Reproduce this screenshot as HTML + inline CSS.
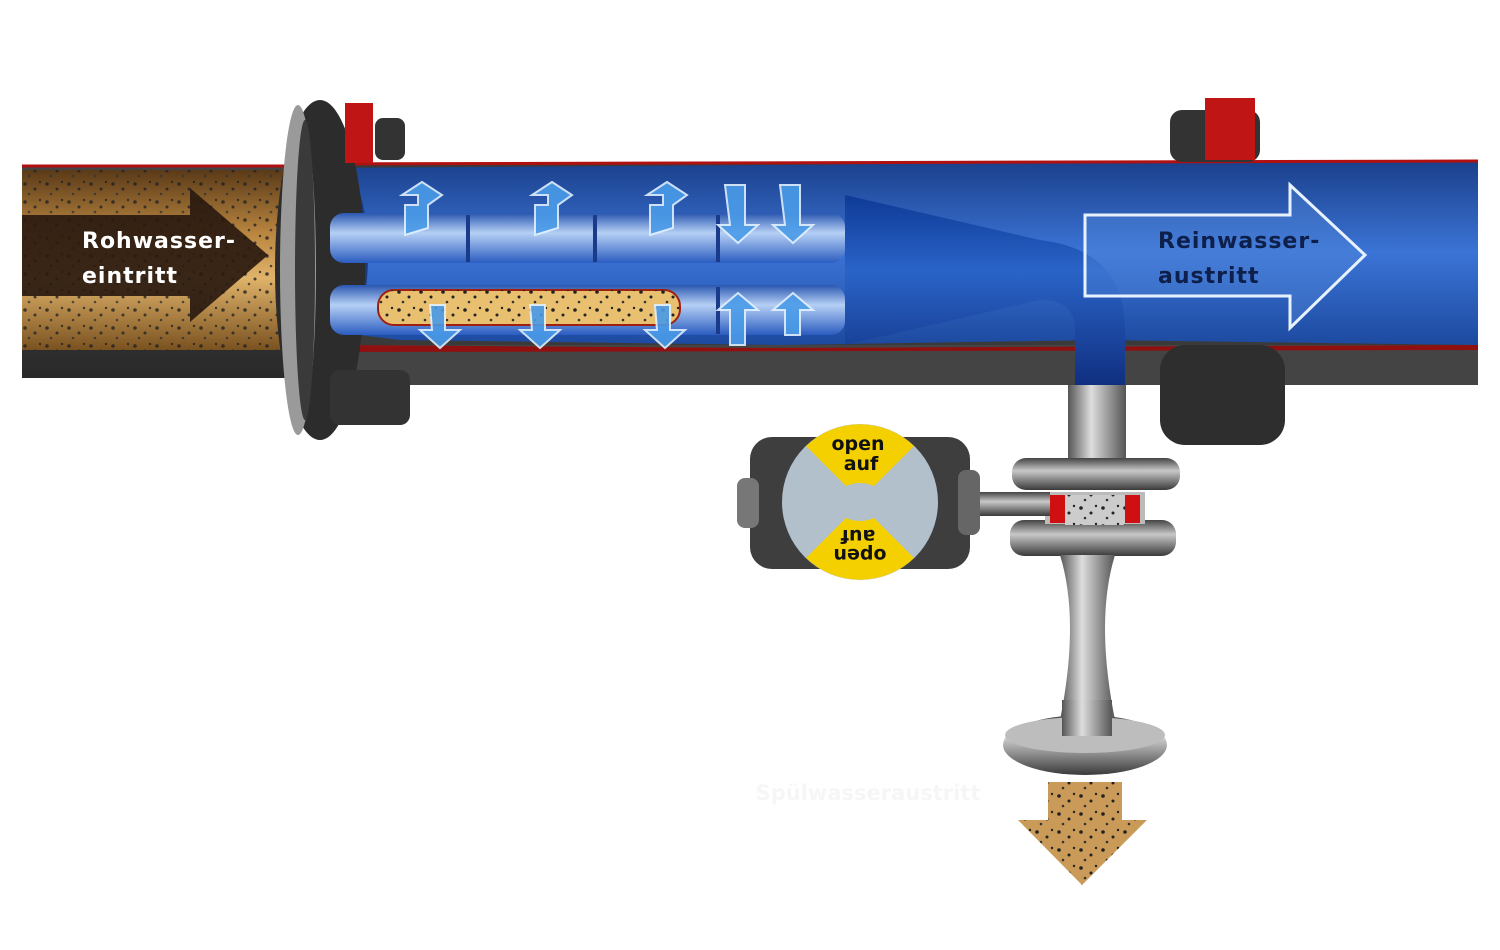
<!DOCTYPE html>
<html><head><meta charset="utf-8"><style>
html,body{margin:0;padding:0;background:#fff;width:1500px;height:950px;overflow:hidden}
svg{display:block}
text{font-family:"DejaVu Sans","Liberation Sans",sans-serif;font-weight:bold}
</style></head><body>
<svg width="1500" height="950" viewBox="0 0 1500 950" xmlns="http://www.w3.org/2000/svg">
<defs>
<linearGradient id="brown" x1="0" y1="0" x2="0" y2="1">
<stop offset="0" stop-color="#5a3a18"/><stop offset="0.35" stop-color="#b9853f"/><stop offset="0.6" stop-color="#e0b36a"/><stop offset="1" stop-color="#7a5220"/></linearGradient>
<linearGradient id="blue" x1="0" y1="0" x2="0" y2="1">
<stop offset="0" stop-color="#1a3f8a"/><stop offset="0.5" stop-color="#3b74d6"/><stop offset="1" stop-color="#1d4aa0"/></linearGradient>
<linearGradient id="tube" x1="0" y1="0" x2="0" y2="1">
<stop offset="0" stop-color="#2a56b0"/><stop offset="0.4" stop-color="#b6d0f5"/><stop offset="1" stop-color="#2b5cc0"/></linearGradient>
<linearGradient id="grey" x1="0" y1="0" x2="0" y2="1">
<stop offset="0" stop-color="#444"/><stop offset="1" stop-color="#2a2a2a"/></linearGradient>
<linearGradient id="steelV" x1="0" y1="0" x2="1" y2="0">
<stop offset="0" stop-color="#555"/><stop offset="0.4" stop-color="#ddd"/><stop offset="1" stop-color="#555"/></linearGradient>
<linearGradient id="steelH" x1="0" y1="0" x2="0" y2="1">
<stop offset="0" stop-color="#444"/><stop offset="0.4" stop-color="#c8c8c8"/><stop offset="1" stop-color="#3a3a3a"/></linearGradient>
<linearGradient id="cone" x1="0" y1="0" x2="0" y2="1">
<stop offset="0" stop-color="#0e3a96"/><stop offset="0.4" stop-color="#2a64c8"/><stop offset="1" stop-color="#102f80"/></linearGradient>
<pattern id="dots" width="22" height="18" patternUnits="userSpaceOnUse">
<circle cx="3" cy="4" r="1.8" fill="#222"/><circle cx="13" cy="9" r="1.5" fill="#222"/><circle cx="7" cy="14" r="1.3" fill="#333"/><circle cx="18" cy="2" r="1.2" fill="#222"/></pattern>
</defs>

<!-- left brown pipe -->
<rect x="22" y="165" width="270" height="213" fill="url(#grey)"/>
<rect x="22" y="170" width="270" height="180" fill="url(#brown)"/>
<rect x="22" y="170" width="270" height="180" fill="url(#dots)" opacity="0.8"/>
<line x1="22" y1="166" x2="292" y2="166" stroke="#b01010" stroke-width="3"/>
<polygon points="22,215 190,215 190,188 268,255 190,322 190,296 22,296" fill="#2a1a10" opacity="0.92"/>
<text x="82" y="248" font-size="22" fill="#fff" font-weight="normal" letter-spacing="1">Rohwasser-</text>
<text x="82" y="283" font-size="22" fill="#fff" font-weight="normal" letter-spacing="1">eintritt</text>

<!-- main housing -->
<rect x="300" y="163" width="1178" height="222" fill="#3a3a3a"/>
<path d="M320,168 L1478,160 L1478,345 L1100,340 L780,345 L400,340 L320,330 Z" fill="url(#blue)"/>
<line x1="300" y1="164" x2="1478" y2="161" stroke="#b01010" stroke-width="3"/>
<rect x="300" y="345" width="1178" height="40" fill="#444"/>
<path d="M340,345 L760,348 L1478,345 L1478,350 L340,352Z" fill="#901010"/>
<ellipse cx="340" cy="255" rx="28" ry="88" fill="#1a3a7a"/>

<!-- left flange -->
<ellipse cx="320" cy="270" rx="45" ry="170" fill="#2c2c2c"/>
<ellipse cx="298" cy="270" rx="18" ry="165" fill="#9a9a9a"/>
<ellipse cx="305" cy="270" rx="10" ry="150" fill="#3a3a3a"/>
<rect x="345" y="103" width="28" height="60" fill="#c01515"/>
<rect x="375" y="118" width="30" height="42" rx="8" fill="#333"/>
<rect x="330" y="370" width="80" height="55" rx="10" fill="#333"/>

<!-- right flange -->
<rect x="1170" y="110" width="90" height="52" rx="12" fill="#333"/>
<rect x="1205" y="98" width="50" height="62" fill="#c01515"/>
<rect x="1160" y="345" width="125" height="100" rx="25" fill="#2e2e2e"/>

<!-- tubes -->
<rect x="330" y="213" width="515" height="50" rx="14" fill="url(#tube)"/>
<rect x="330" y="285" width="515" height="50" rx="14" fill="url(#tube)"/>
<rect x="378" y="290" width="302" height="35" rx="16" fill="#e8c070" stroke="#a02010" stroke-width="2"/>
<rect x="378" y="290" width="302" height="35" rx="16" fill="url(#dots)"/>
<g stroke="#1a3a8a" stroke-width="4" fill="none">
<line x1="468" y1="215" x2="468" y2="262"/><line x1="595" y1="215" x2="595" y2="262"/><line x1="718" y1="215" x2="718" y2="262"/>
<line x1="718" y1="287" x2="718" y2="334"/></g>
<g fill="#4a9be8" stroke="#e0f0ff" stroke-width="2" opacity="0.9">
<polygon points="405,205 418,205 418,195 402,195 422,182 442,195 428,205 428,228 405,235"/>
<polygon points="535,205 548,205 548,195 532,195 552,182 572,195 558,205 558,228 535,235"/>
<polygon points="650,205 663,205 663,195 647,195 667,182 687,195 673,205 673,228 650,235"/>
<polygon points="725,185 745,185 745,225 758,225 738,243 718,225 730,225"/>
<polygon points="780,185 800,185 800,225 813,225 793,243 773,225 785,225"/>
<polygon points="430,305 445,305 445,330 460,330 440,348 420,330 432,330"/>
<polygon points="530,305 545,305 545,330 560,330 540,348 520,330 532,330"/>
<polygon points="655,305 670,305 670,330 685,330 665,348 645,330 657,330"/>
<polygon points="730,345 745,345 745,310 758,310 738,293 718,310 730,310"/>
<polygon points="785,335 800,335 800,310 813,310 793,293 773,310 785,310"/>
</g>

<path d="M845,195 L1040,240 Q1125,250 1125,330 L1125,385 L1075,385 L1075,330 Q1075,300 1040,300 L845,345 Z" fill="url(#cone)"/>

<polygon points="1085,215 1290,215 1290,185 1365,255 1290,328 1290,296 1085,296" fill="#5a8fe0" fill-opacity="0.35" stroke="#e8f2ff" stroke-width="3"/>
<text x="1158" y="248" font-size="22" fill="#0d1f4a" letter-spacing="1">Reinwasser-</text>
<text x="1158" y="283" font-size="22" fill="#0d1f4a" letter-spacing="1">austritt</text>

<!-- drain pipe -->
<rect x="1068" y="385" width="58" height="90" fill="url(#steelV)"/>
<rect x="1012" y="458" width="168" height="32" rx="14" fill="url(#steelH)"/>
<rect x="1010" y="520" width="166" height="36" rx="14" fill="url(#steelH)"/>
<rect x="1045" y="492" width="100" height="32" fill="#bbb"/>
<rect x="1050" y="495" width="25" height="28" fill="#d01010"/>
<rect x="1115" y="495" width="25" height="28" fill="#d01010"/>
<rect x="1065" y="495" width="60" height="30" fill="#ccc"/>
<rect x="1065" y="495" width="60" height="30" fill="url(#dots)"/>
<rect x="975" y="492" width="75" height="24" fill="url(#steelH)"/>
<path d="M1060,555 L1115,555 Q1095,620 1115,720 L1060,720 Q1080,620 1060,555Z" fill="url(#steelV)"/>
<ellipse cx="1085" cy="745" rx="82" ry="30" fill="url(#steelH)"/>
<ellipse cx="1085" cy="735" rx="80" ry="18" fill="#bdbdbd"/>
<rect x="1062" y="700" width="50" height="36" fill="url(#steelV)"/>
<polygon points="1048,782 1122,782 1122,820 1147,820 1082,885 1018,820 1048,820" fill="#c99a58"/>
<polygon points="1048,782 1122,782 1122,820 1147,820 1082,885 1018,820 1048,820" fill="url(#dots)"/>

<!-- actuator -->
<rect x="750" y="437" width="220" height="132" rx="22" fill="#3e3e3e"/>
<rect x="737" y="478" width="22" height="50" rx="8" fill="#777"/>
<rect x="958" y="470" width="22" height="65" rx="8" fill="#666"/>
<circle cx="860" cy="502" r="78" fill="#b2c0cc"/>
<path d="M806,446 A78,78 0 0 1 914,446 L874,486 Q860,480 846,486 Z" fill="#f5d000"/>
<path d="M806,558 A78,78 0 0 0 914,558 L874,518 Q860,524 846,518 Z" fill="#f5d000"/>
<text x="858" y="450" font-size="19" text-anchor="middle" fill="#111" font-family="Liberation Sans">open</text>
<text x="861" y="470" font-size="19" text-anchor="middle" fill="#111" font-family="Liberation Sans">auf</text>
<g transform="rotate(180 860 548)">
<text x="860" y="547" font-size="19" text-anchor="middle" fill="#111" font-family="Liberation Sans">open</text>
<text x="862" y="566" font-size="19" text-anchor="middle" fill="#111" font-family="Liberation Sans">auf</text></g>

<text x="868" y="800" font-size="21" text-anchor="middle" fill="#f6f6f6">Spülwasseraustritt</text>
</svg>
</body></html>
